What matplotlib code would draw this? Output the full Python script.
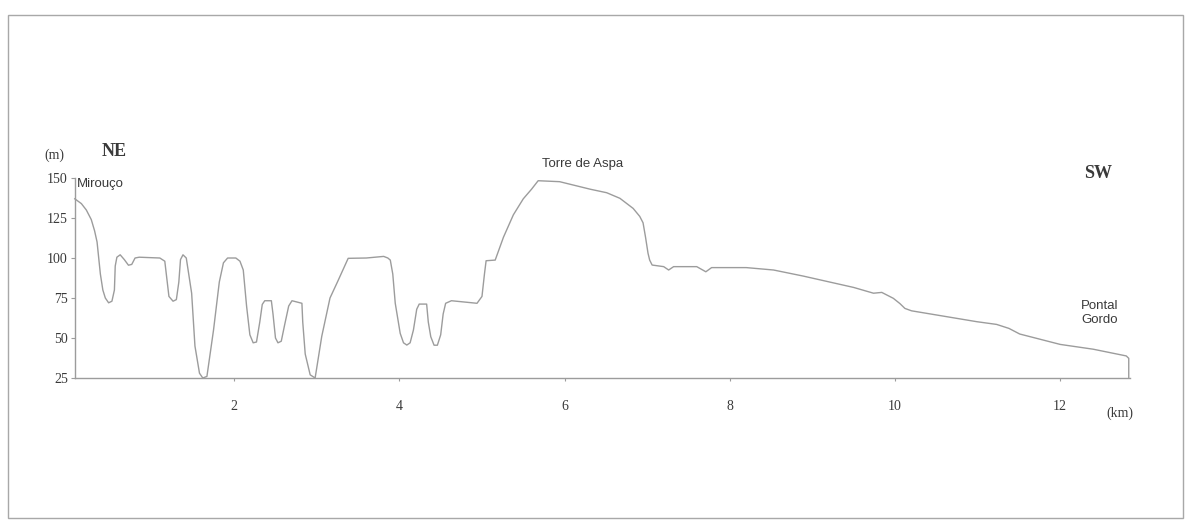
import matplotlib.pyplot as plt
from matplotlib.patches import Rectangle

# profile NE -> SW, distance (km) and elevation (m)
dist_km = [0.07, 0.15, 0.21, 0.27, 0.31, 0.34, 0.36, 0.38, 0.41, 0.44, 0.48, 0.52, 0.55, 0.56,
           0.58, 0.62, 0.67, 0.72, 0.76, 0.80, 0.85, 1.10, 1.16, 1.19, 1.21, 1.26, 1.30, 1.33,
           1.35, 1.38, 1.42, 1.45, 1.485, 1.525, 1.58, 1.62, 1.67, 1.75, 1.82, 1.87, 1.92, 2.02,
           2.07, 2.11, 2.15, 2.19, 2.23, 2.27, 2.31, 2.34, 2.37, 2.45, 2.47, 2.50, 2.53, 2.57,
           2.61, 2.66, 2.70, 2.82, 2.83, 2.86, 2.92, 2.98, 3.06, 3.16, 3.25, 3.38, 3.60, 3.81,
           3.86, 3.89, 3.92, 3.95, 4.01, 4.05, 4.09, 4.13, 4.17, 4.21, 4.24, 4.33, 4.35, 4.38,
           4.42, 4.46, 4.50, 4.53, 4.56, 4.63, 4.94, 5.00, 5.03, 5.05, 5.16, 5.26, 5.38, 5.50,
           5.60, 5.68, 5.94, 6.31, 6.51, 6.67, 6.83, 6.91, 6.95, 6.98, 7.01, 7.03, 7.06, 7.20,
           7.26, 7.32, 7.60, 7.71, 7.78, 8.20, 8.53, 8.89, 9.50, 9.74, 9.84, 9.98, 10.06, 10.12,
           10.20, 10.99, 11.23, 11.38, 11.51, 12.00, 12.40, 12.80, 12.83, 12.83]
elev_m = [137, 134, 130, 124, 117, 110, 100, 90, 80, 75, 72, 73, 80, 95,
          100.5, 102, 99, 95.5, 96, 100, 100.5, 100, 98, 85, 76, 73, 74, 85,
          99, 102, 100, 90, 78, 45, 28, 25, 26, 55, 85, 97, 100, 100,
          98, 92.5, 70, 52, 47, 47.5, 60, 71, 73.3, 73.3, 65, 50, 47, 48,
          58, 70, 73.3, 71.7, 60, 40, 27, 25, 51, 75, 85, 99.8, 100, 101,
          100, 98.7, 90, 71.7, 52.9, 47, 45.6, 47, 55, 68, 71.2, 71.2, 60, 50.8,
          45.5, 45.5, 52, 65, 71.7, 73.3, 71.7, 76, 90, 98.3, 98.7, 113, 127, 137,
          143, 148.3, 147.7, 143, 140.8, 137.3, 131, 126, 122, 113, 103, 98.7, 95.6, 94.6,
          92.5, 94.6, 94.6, 91.4, 94, 94, 92.5, 88.7, 81.6, 78, 78.5, 74.8, 71.5, 68.5,
          67, 60.2, 58.5, 56, 52.5, 46, 43, 38.8, 37.3, 25]

yticks = [25, 50, 75, 100, 125, 150]
xticks = [2, 4, 6, 8, 10, 12]

serif = 'Liberation Serif'
sans = 'Liberation Sans'
grey = '#9c9c9c'
txt = '#3a3a3a'

fig = plt.figure(figsize=(12, 5.24), dpi=100)
ax = fig.add_axes([0.0623, 0.2786, 0.8797, 0.3817])

ax.plot(dist_km, elev_m, color=grey, lw=1.0, clip_on=False)

ax.set_xlim(0.07, 12.85)
ax.set_ylim(25, 150)
ax.set_xticks(xticks)
ax.set_yticks(yticks)
ax.set_xticklabels([str(v) for v in xticks], family=serif, fontsize=10, color=txt)
ax.set_yticklabels([str(v) for v in yticks], family=serif, fontsize=10, color=txt)
ax.tick_params(axis='x', direction='out', length=2, pad=14, color=grey)
ax.tick_params(axis='y', direction='out', length=3, pad=2, color=grey)
for s in ['top', 'right']:
    ax.spines[s].set_visible(False)
for s in ['left', 'bottom']:
    ax.spines[s].set_color(grey)
    ax.spines[s].set_linewidth(1.0)

# labels in figure pixels (origin top-left)
def put(x, y, s, **kw):
    fig.text(x / 1200, 1 - y / 524, s, ha='center', va='center', **kw)

put(54, 155, '(m)', family=serif, fontsize=10, color=txt)
put(114, 151, 'NE', family=serif, fontsize=13, weight='bold', color=txt)
put(1098, 174, 'SW', family=serif, fontsize=13, weight='bold', color=txt)
put(1120, 413, '(km)', family=serif, fontsize=10, color=txt)
fig.text(77 / 1200, 1 - 184 / 524, 'Mirouço', ha='left', va='center',
         family=sans, fontsize=9.5, color=txt)
put(583, 164, 'Torre de Aspa', family=sans, fontsize=9.5, color=txt)
put(1100, 313, 'Pontal\nGordo', family=sans, fontsize=9.5, color=txt, linespacing=1.3)

# frame around the figure
fig.patches.append(Rectangle((8 / 1200, 1 - 518 / 524), 1175 / 1200, 503 / 524,
                             transform=fig.transFigure, fill=False,
                             edgecolor='#a8a8a8', lw=1.0))

fig.savefig('out.png', dpi=100)
